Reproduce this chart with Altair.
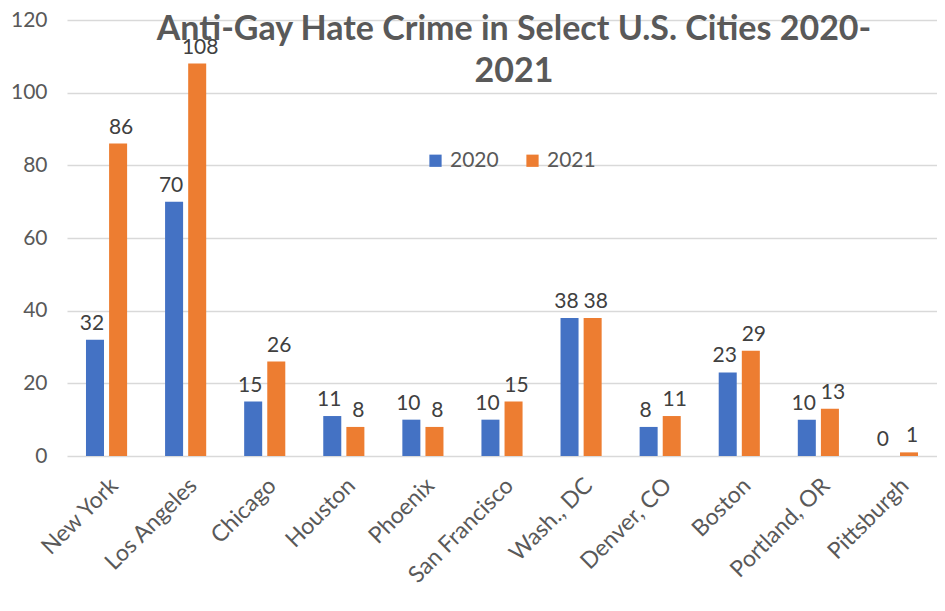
import altair as alt
import pandas as pd

cities = ["New York", "Los Angeles", "Chicago", "Houston", "Phoenix", "San Francisco",
          "Wash., DC", "Denver, CO", "Boston", "Portland, OR", "Pittsburgh"]
v2020 = [32, 70, 15, 11, 10, 10, 38, 8, 23, 10, 0]
v2021 = [86, 108, 26, 8, 8, 15, 38, 11, 29, 13, 1]
years = ["2020", "2021"]
colors = ["#4472C4", "#ED7D31"]

rows = []
for c, a, b in zip(cities, v2020, v2021):
    rows.append({"city": c, "year": years[0], "value": a})
    rows.append({"city": c, "year": years[1], "value": b})
df = pd.DataFrame(rows)

FONT = "Lato"
GRAY = "#595959"

x = alt.X("city:N", sort=cities, title=None,
          scale=alt.Scale(paddingInner=0.48, paddingOuter=0.24),
          axis=alt.Axis(labelAngle=-45, labelFontSize=23, labelColor=GRAY, labelFont=FONT,
                        ticks=False, domain=False, labelPadding=18))
xo = alt.XOffset("year:N", scale=alt.Scale(domain=years, paddingInner=0.22))
y = alt.Y("value:Q", title=None,
          scale=alt.Scale(domain=[0, 120]),
          axis=alt.Axis(values=[0, 20, 40, 60, 80, 100, 120], labelFontSize=21, labelColor=GRAY,
                        labelFont=FONT, ticks=False, domain=False, labelPadding=20,
                        gridColor="#D9D9D9", gridWidth=1.5))

base = alt.Chart(df)

bars = base.mark_bar().encode(
    x=x, xOffset=xo, y=y,
    color=alt.Color("year:N", scale=alt.Scale(domain=years, range=colors),
                    legend=alt.Legend(title=None, orient="none", legendX=358, legendY=130,
                                      direction="horizontal", symbolType="square",
                                      symbolSize=150, symbolStrokeWidth=0,
                                      labelFontSize=21, labelColor=GRAY, labelFont=FONT,
                                      columnPadding=23, symbolOpacity=1)),
)

labels20 = base.transform_filter(alt.datum.year == years[0]).mark_text(
    dy=-16, dx=-3, fontSize=21, color="#404040", font=FONT
).encode(x=x, xOffset=xo, y=y, text="value:Q")

labels21 = base.transform_filter(alt.datum.year == years[1]).mark_text(
    dy=-16, dx=3, fontSize=21, color="#404040", font=FONT
).encode(x=x, xOffset=xo, y=y, text="value:Q")

chart = (bars + labels20 + labels21).properties(
    width=870, height=436,
    padding={"left": 59, "top": 12, "right": 0, "bottom": 148},
    autosize=alt.AutoSizeParams(type="none"),
    title=alt.TitleParams(text=["Anti-Gay Hate Crime in Select U.S. Cities 2020-", "2021"],
                          anchor="middle", fontSize=34, fontWeight="bold", color=GRAY,
                          font=FONT, lineHeight=42, baseline="top", offset=-80, dx=12),
).configure_view(stroke=None)

chart.save("out.html", embed_options={"renderer": "svg", "actions": False})
